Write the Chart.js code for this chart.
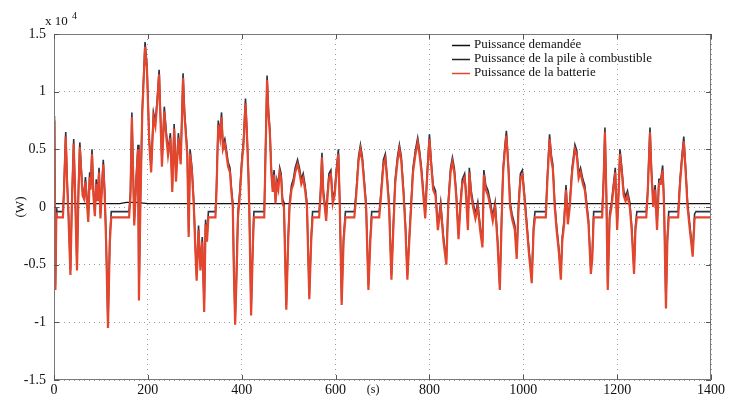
<!DOCTYPE html>
<html>
<head>
<meta charset="utf-8">
<script src="https://cdn.jsdelivr.net/npm/chart.js@4.4.1/dist/chart.umd.min.js"></script>
<style>
  html, body { margin: 0; padding: 0; background: #fff; }
  canvas { display: block; }
</style>
</head>
<body>
<canvas id="graphe" width="729" height="402"></canvas>
<script>
// Temps (s) des points relevés
const temps = [
  0, 1, 3, 5, 6, 19, 21, 25, 28, 31,
  35, 38, 42, 45, 49, 52, 55, 58, 61, 64,
  67, 70, 73, 76, 78, 81, 84, 87, 90, 93,
  96, 99, 102, 105, 108, 111, 115, 119, 122, 160,
  163, 166, 168, 171, 175, 179, 181, 184, 188, 194,
  198, 203, 207, 212, 216, 220, 224, 230, 235, 239,
  243, 248, 252, 256, 260, 265, 270, 275, 278, 284,
  287, 290, 294, 298, 301, 304, 308, 312, 316, 320,
  323, 326, 329, 344, 346, 350, 354, 357, 360, 364,
  367, 371, 375, 378, 381, 383, 386, 389, 392, 396,
  400, 404, 408, 411, 414, 416, 420, 424, 426, 448,
  450, 454, 457, 460, 463, 466, 469, 472, 475, 478,
  481, 484, 487, 490, 495, 499, 502, 506, 510, 514,
  519, 523, 527, 531, 535, 539, 544, 548, 551, 565,
  568, 571, 574, 577, 580, 583, 586, 590, 594, 598,
  602, 606, 609, 613, 617, 621, 640, 644, 649, 653,
  657, 661, 665, 670, 674, 677, 693, 697, 702, 706,
  710, 714, 719, 723, 727, 732, 736, 740, 745, 749,
  753, 757, 761, 765, 770, 775, 779, 783, 787, 791,
  795, 800, 804, 808, 813, 818, 824, 830, 836, 840,
  845, 849, 853, 857, 862, 866, 870, 875, 878, 882,
  885, 889, 893, 898, 903, 908, 913, 916, 920, 925,
  930, 935, 940, 945, 950, 954, 957, 961, 964, 968,
  972, 976, 982, 986, 990, 994, 998, 1002, 1006, 1012,
  1018, 1022, 1025, 1048, 1051, 1056, 1060, 1063, 1067, 1071,
  1076, 1080, 1083, 1087, 1091, 1095, 1099, 1104, 1110, 1114,
  1118, 1122, 1127, 1131, 1135, 1139, 1144, 1147, 1150, 1168,
  1171, 1174, 1177, 1180, 1184, 1188, 1192, 1196, 1200, 1203,
  1206, 1210, 1214, 1218, 1222, 1227, 1231, 1236, 1239, 1242,
  1262, 1265, 1270, 1273, 1277, 1281, 1285, 1289, 1293, 1297,
  1300, 1304, 1307, 1310, 1330, 1334, 1338, 1342, 1346, 1350,
  1355, 1361, 1365, 1368, 1400
];

// Puissance de la batterie (x 10^4 W)
const batterie = [
  -0.05, 0.75, -0.72, -0.05, -0.09, -0.09, 0.1, 0.61, 0.2, -0.1,
  -0.59, 0.0, 0.55, 0.1, -0.55, 0.1, 0.52, 0.3, 0.1, 0.07,
  0.22, 0.05, -0.13, 0.26, 0.15, 0.46, 0.1, -0.08, 0.2, 0.05,
  0.3, -0.1, 0.15, 0.37, 0.1, -0.3, -1.05, -0.3, -0.09, -0.09,
  0.1, 0.78, 0.4, -0.16, 0.2, 0.5, -0.81, 0.0, 0.8, 1.39,
  1.2, 0.55, 0.3, 0.78, 0.7, 0.9, 1.15, 0.35, 0.83, 0.62,
  0.45, 0.6, 0.13, 0.68, 0.22, 0.6, 0.37, 1.12, 0.8, 0.45,
  -0.26, 0.46, 0.3, 0.0, -0.35, -0.64, -0.2, -0.55, -0.3, -0.91,
  -0.15, -0.3, -0.09, -0.09, 0.1, 0.71, 0.6, 0.78, 0.5, 0.55,
  0.47, 0.35, 0.3, 0.13, 0.0, -0.5, -1.02, -0.6, -0.09, 0.1,
  0.36, 0.55, 0.9, 0.64, 0.3, 0.0, -0.94, -0.3, -0.09, -0.09,
  0.3, 1.1, 0.8, 0.64, 0.3, 0.13, 0.28, 0.03, 0.2, 0.15,
  0.3, 0.25, 0.03, 0.0, -0.89, -0.3, 0.0, 0.15, 0.2, 0.3,
  0.37, 0.3, 0.2, 0.25, 0.15, 0.0, -0.8, -0.3, -0.09, -0.09,
  0.1, 0.43, 0.1, 0.0, -0.12, 0.1, 0.25, 0.28, 0.03, 0.1,
  0.3, 0.46, 0.0, -0.85, -0.3, -0.09, -0.09, 0.1, 0.4, 0.5,
  0.4, 0.2, 0.0, -0.72, -0.3, -0.09, -0.09, 0.1, 0.37, 0.42,
  0.22, 0.0, -0.63, -0.2, 0.2, 0.4, 0.5, 0.4, 0.1, -0.2,
  -0.63, -0.3, 0.0, 0.3, 0.45, 0.56, 0.45, 0.3, 0.1, -0.1,
  0.25, 0.59, 0.35, 0.15, 0.1, -0.2, 0.0, -0.3, -0.5, 0.0,
  0.3, 0.39, 0.3, 0.1, -0.28, 0.0, 0.2, 0.25, 0.1, -0.2,
  0.3, 0.1, 0.0, -0.1, 0.0, -0.2, -0.35, 0.28, 0.15, 0.1,
  0.0, -0.12, 0.0, -0.3, -0.72, -0.1, 0.3, 0.5, 0.62, 0.35,
  0.0, -0.1, -0.2, -0.45, 0.0, 0.25, 0.28, 0.1, -0.1, -0.4,
  -0.66, -0.2, -0.09, -0.09, 0.2, 0.59, 0.4, 0.33, 0.0, -0.2,
  -0.4, -0.63, -0.3, -0.15, 0.15, -0.15, 0.0, 0.3, 0.5, 0.45,
  0.25, 0.3, 0.2, 0.15, 0.0, -0.15, -0.58, -0.45, -0.09, -0.09,
  0.2, 0.65, 0.1, -0.72, -0.1, 0.0, 0.15, 0.3, -0.2, 0.1,
  0.46, 0.3, 0.1, 0.05, 0.1, 0.0, -0.2, -0.58, -0.2, -0.09,
  -0.09, 0.1, 0.65, 0.3, 0.0, 0.15, -0.2, 0.2, 0.2, 0.32,
  0.0, -0.88, -0.3, -0.09, -0.09, 0.2, 0.4, 0.57, 0.3, 0.0,
  -0.2, -0.43, -0.1, -0.09, -0.09
];

// Puissance demandée (x 10^4 W), mêmes instants
const demandee = [
  -0.01, 0.79, -0.68, -0.01, -0.04, -0.04, 0.14, 0.65, 0.24, -0.06,
  -0.55, 0.04, 0.59, 0.14, -0.51, 0.14, 0.56, 0.34, 0.14, 0.11,
  0.26, 0.09, -0.09, 0.3, 0.19, 0.5, 0.14, -0.04, 0.24, 0.09,
  0.34, -0.06, 0.19, 0.41, 0.14, -0.26, -1.01, -0.26, -0.04, -0.04,
  0.14, 0.82, 0.44, -0.12, 0.24, 0.54, -0.77, 0.04, 0.84, 1.43,
  1.24, 0.59, 0.34, 0.82, 0.74, 0.94, 1.19, 0.39, 0.87, 0.66,
  0.49, 0.64, 0.17, 0.72, 0.26, 0.64, 0.41, 1.16, 0.84, 0.49,
  -0.22, 0.5, 0.34, 0.04, -0.31, -0.6, -0.16, -0.51, -0.26, -0.87,
  -0.11, -0.26, -0.04, -0.04, 0.14, 0.75, 0.64, 0.82, 0.54, 0.59,
  0.51, 0.39, 0.34, 0.17, 0.04, -0.46, -0.98, -0.56, -0.04, 0.14,
  0.4, 0.59, 0.94, 0.68, 0.34, 0.04, -0.9, -0.26, -0.04, -0.04,
  0.34, 1.14, 0.84, 0.68, 0.34, 0.17, 0.32, 0.07, 0.24, 0.19,
  0.34, 0.29, 0.07, 0.04, -0.85, -0.26, 0.04, 0.19, 0.24, 0.34,
  0.41, 0.34, 0.24, 0.29, 0.19, 0.04, -0.76, -0.26, -0.04, -0.04,
  0.14, 0.47, 0.14, 0.04, -0.08, 0.14, 0.29, 0.32, 0.07, 0.14,
  0.34, 0.5, 0.04, -0.81, -0.26, -0.04, -0.04, 0.14, 0.44, 0.54,
  0.44, 0.24, 0.04, -0.68, -0.26, -0.04, -0.04, 0.14, 0.41, 0.46,
  0.26, 0.04, -0.59, -0.16, 0.24, 0.44, 0.54, 0.44, 0.14, -0.16,
  -0.59, -0.26, 0.04, 0.34, 0.49, 0.6, 0.49, 0.34, 0.14, -0.06,
  0.29, 0.63, 0.39, 0.19, 0.14, -0.16, 0.04, -0.26, -0.46, 0.04,
  0.34, 0.43, 0.34, 0.14, -0.24, 0.04, 0.24, 0.29, 0.14, -0.16,
  0.34, 0.14, 0.04, -0.06, 0.04, -0.16, -0.31, 0.32, 0.19, 0.14,
  0.04, -0.08, 0.04, -0.26, -0.68, -0.06, 0.34, 0.54, 0.66, 0.39,
  0.04, -0.06, -0.16, -0.41, 0.04, 0.29, 0.32, 0.14, -0.06, -0.36,
  -0.62, -0.16, -0.04, -0.04, 0.24, 0.63, 0.44, 0.37, 0.04, -0.16,
  -0.36, -0.59, -0.26, -0.11, 0.19, -0.11, 0.04, 0.34, 0.54, 0.49,
  0.29, 0.34, 0.24, 0.19, 0.04, -0.11, -0.54, -0.41, -0.04, -0.04,
  0.24, 0.69, 0.14, -0.68, -0.06, 0.04, 0.19, 0.34, -0.16, 0.14,
  0.5, 0.34, 0.14, 0.09, 0.14, 0.04, -0.16, -0.54, -0.16, -0.04,
  -0.04, 0.14, 0.69, 0.34, 0.04, 0.19, -0.16, 0.24, 0.24, 0.36,
  0.04, -0.84, -0.26, -0.04, -0.04, 0.24, 0.44, 0.61, 0.34, 0.04,
  -0.16, -0.39, -0.06, -0.04, -0.04
];

// Puissance de la pile à combustible (x 10^4 W)
const tempsPile = [0, 140, 155, 175, 200, 260, 1400];
const pile = [0.03, 0.03, 0.04, 0.04, 0.03, 0.03, 0.03];

const graduationsX = [0, 200, 400, 600, 800, 1000, 1200, 1400];
const etiquettesX = ['0', '200', '400', '600', '800', '1000', '1200', '1400'];
const graduationsY = [-1.5, -1, -0.5, 0, 0.5, 1, 1.5];
const etiquettesY = ['-1.5', '-1', '-0.5', '0', '0.5', '1', '1.5'];
const nomsSeries = ['Puissance demandée', 'Puissance de la pile à combustible', 'Puissance de la batterie'];

const police = "'Liberation Serif', 'Times New Roman', serif";
const rouge = '#e4452d';
const bleuNuit = '#2b3246';

function points(xs, ys) {
  return xs.map((t, i) => ({ x: t, y: ys[i] }));
}

// textes, cadre et légende façon Matlab
const decor = {
  id: 'decor',
  afterDatasetsDraw(chart) {
    const { ctx, chartArea: a, scales: { x, y } } = chart;
    ctx.save();
    ctx.strokeStyle = '#7a7a7a';
    ctx.lineWidth = 1;
    ctx.strokeRect(a.left + 0.5, a.top + 0.5, a.right - a.left - 1, a.bottom - a.top - 1);

    ctx.strokeStyle = '#555';
    ctx.beginPath();
    graduationsX.forEach(v => {
      const px = Math.round(x.getPixelForValue(v)) + 0.5;
      ctx.moveTo(px, a.bottom); ctx.lineTo(px, a.bottom - 5);
      ctx.moveTo(px, a.top); ctx.lineTo(px, a.top + 5);
    });
    graduationsY.forEach(v => {
      const py = Math.round(y.getPixelForValue(v)) + 0.5;
      ctx.moveTo(a.left, py); ctx.lineTo(a.left + 5, py);
      ctx.moveTo(a.right, py); ctx.lineTo(a.right - 5, py);
    });
    ctx.stroke();

    ctx.fillStyle = '#111';
    ctx.textBaseline = 'middle';
    ctx.textAlign = 'left';
    ctx.font = '13px ' + police;
    ctx.fillText('x 10', 45, 22);
    ctx.font = '10px ' + police;
    ctx.fillText('4', 72, 16);

    ctx.font = '12px ' + police;
    ctx.textAlign = 'center';
    ctx.fillText('(s)', x.getPixelForValue(680), 390);

    ctx.save();
    ctx.translate(21, y.getPixelForValue(0));
    ctx.rotate(-Math.PI / 2);
    ctx.font = '13px ' + police;
    ctx.fillText('(W)', 0, 0);
    ctx.restore();

    // légende
    const couleurs = ['#111', '#222', rouge];
    ctx.font = '13px ' + police;
    ctx.textAlign = 'left';
    nomsSeries.forEach((nom, i) => {
      const ly = 45 + i * 14;
      ctx.strokeStyle = couleurs[i];
      ctx.lineWidth = 1.5;
      ctx.beginPath();
      ctx.moveTo(452, ly + 0.5);
      ctx.lineTo(470, ly + 0.5);
      ctx.stroke();
      ctx.fillStyle = '#111';
      ctx.fillText(nom, 474, ly);
    });
    ctx.restore();
  }
};

new Chart(document.getElementById('graphe'), {
  type: 'line',
  data: {
    datasets: [
      {
        label: nomsSeries[2],
        data: points(temps, batterie),
        borderColor: rouge,
        borderWidth: 2.2,
        pointRadius: 0,
        tension: 0,
        order: 0
      },
      {
        label: nomsSeries[1],
        data: points(tempsPile, pile),
        borderColor: '#111',
        borderWidth: 1.2,
        pointRadius: 0,
        tension: 0,
        order: 1
      },
      {
        label: nomsSeries[0],
        data: points(temps, demandee),
        borderColor: bleuNuit,
        borderWidth: 1.6,
        pointRadius: 0,
        tension: 0,
        order: 2
      }
    ]
  },
  options: {
    responsive: false,
    animation: false,
    devicePixelRatio: 1,
    layout: { padding: { top: 34, right: 18, left: 0, bottom: 0 } },
    plugins: { legend: { display: false }, tooltip: { enabled: false } },
    scales: {
      x: {
        type: 'linear',
        min: 0,
        max: 1400,
        afterBuildTicks: s => { s.ticks = graduationsX.map(v => ({ value: v })); },
        afterFit: s => { s.height = 22; },
        grid: { color: '#9a9a9a', drawTicks: false },
        border: { display: false, dash: [1, 4] },
        ticks: {
          color: '#111',
          padding: 2,
          maxRotation: 0,
          font: { family: police, size: 14 },
          callback: (v) => etiquettesX[graduationsX.indexOf(v)]
        }
      },
      y: {
        min: -1.5,
        max: 1.5,
        afterBuildTicks: s => { s.ticks = graduationsY.map(v => ({ value: v })); },
        afterFit: s => { s.width = 54; },
        grid: { color: '#9a9a9a', drawTicks: false },
        border: { display: false, dash: [1, 4] },
        ticks: {
          color: '#111',
          padding: 8,
          font: { family: police, size: 14 },
          callback: (v) => etiquettesY[graduationsY.indexOf(v)]
        }
      }
    }
  },
  plugins: [decor]
});
</script>
</body>
</html>
